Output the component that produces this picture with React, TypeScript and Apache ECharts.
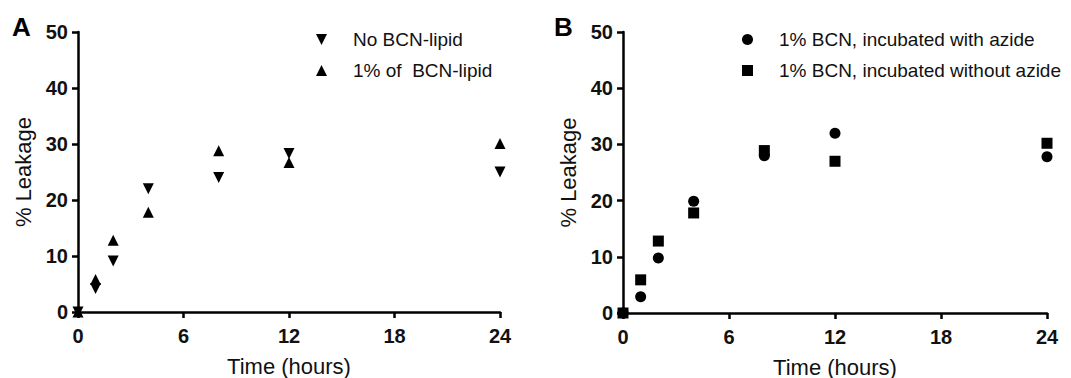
import React, { useEffect, useRef } from "react";
import * as echarts from "echarts";

const hours = [0, 1, 2, 4, 8, 12, 24];
const noBcnLipid = [0, 4.2, 9.1, 22.0, 24.0, 28.3, 25.0];
const bcnLipid1 = [0, 5.8, 12.8, 17.8, 28.8, 26.7, 30.1];
const withAzide = [0, 2.9, 9.8, 19.9, 28.0, 32.0, 27.8];
const withoutAzide = [0, 5.9, 12.8, 17.8, 28.9, 27.0, 30.2];

const seriesNamesA = ["No BCN-lipid", "1% of  BCN-lipid"];
const seriesNamesB = ["1% BCN, incubated with azide", "1% BCN, incubated without azide"];
const panelLabels = ["A", "B"];
const xTitle = "Time (hours)";
const yTitle = "% Leakage";

const FONT = "'Liberation Sans', Arial, Helvetica, sans-serif";
const DOWN_TRI = "path://M0,0L10,0L5,10Z";

const pts = (vals: number[]) => hours.map((h, i) => [h, vals[i]]);

export default function App() {
  const ref = useRef<HTMLDivElement>(null);
  useEffect(() => {
    if (!ref.current) return;
    const chart = echarts.init(ref.current, null, { renderer: "svg" });
    const axisLine = { show: true, onZero: false, lineStyle: { color: "#000", width: 2.5 } };
    const axisTick = { show: true, inside: false, length: 6, lineStyle: { color: "#000", width: 2.5 } };
    const label = (margin: number) => ({
      color: "#111",
      fontSize: 20,
      fontWeight: "bold" as const,
      fontFamily: FONT,
      margin,
    });
    const nameStyle = { color: "#111", fontSize: 22, fontFamily: FONT };
    const xAxis = (gi: number) => ({
      type: "value" as const,
      gridIndex: gi,
      min: 0,
      max: 24,
      interval: 6,
      name: xTitle,
      nameLocation: "middle" as const,
      nameGap: 43,
      nameTextStyle: nameStyle,
      axisLine,
      axisTick,
      axisLabel: label(14),
      splitLine: { show: false },
    });
    const yAxis = (gi: number) => ({
      type: "value" as const,
      gridIndex: gi,
      min: 0,
      max: 50,
      interval: 10,
      name: yTitle,
      nameLocation: "middle" as const,
      nameGap: 44,
      nameTextStyle: nameStyle,
      axisLine,
      axisTick,
      axisLabel: label(10),
      splitLine: { show: false },
    });
    const legendBase = {
      orient: "vertical" as const,
      top: 25,
      itemWidth: 11,
      itemHeight: 11,
      itemGap: 12,
      selectedMode: false,
      textStyle: { fontSize: 19, fontFamily: FONT, color: "#111", padding: [0, 0, 0, 21] },
    };
    const mark = { color: "#000", opacity: 1 };
    chart.setOption({
      animation: false,
      backgroundColor: "#fff",
      title: [
        { text: panelLabels[0], left: 7, top: 9, textStyle: { fontSize: 26, fontWeight: "bold", fontFamily: FONT, color: "#000" } },
        { text: panelLabels[1], left: 549, top: 9, textStyle: { fontSize: 26, fontWeight: "bold", fontFamily: FONT, color: "#000" } },
      ],
      grid: [
        { left: 78, top: 32, width: 422, height: 280, containLabel: false, outerBoundsMode: "none" },
        { left: 623, top: 32, width: 424, height: 281, containLabel: false, outerBoundsMode: "none" },
      ],
      xAxis: [xAxis(0), xAxis(1)],
      yAxis: [yAxis(0), yAxis(1)],
      legend: [
        { ...legendBase, left: 311, data: seriesNamesA },
        { ...legendBase, left: 737, data: seriesNamesB },
      ],
      series: [
        {
          name: seriesNamesA[0], type: "scatter", xAxisIndex: 0, yAxisIndex: 0, clip: false,
          symbol: DOWN_TRI, symbolSize: 11, itemStyle: mark, data: pts(noBcnLipid),
        },
        {
          name: seriesNamesA[1], type: "scatter", xAxisIndex: 0, yAxisIndex: 0, clip: false,
          symbol: "triangle", symbolSize: 11, itemStyle: mark, data: pts(bcnLipid1),
        },
        {
          name: seriesNamesB[0], type: "scatter", xAxisIndex: 1, yAxisIndex: 1, clip: false,
          symbol: "circle", symbolSize: 11, itemStyle: mark, data: pts(withAzide),
        },
        {
          name: seriesNamesB[1], type: "scatter", xAxisIndex: 1, yAxisIndex: 1, clip: false,
          symbol: "rect", symbolSize: 11, itemStyle: mark, data: pts(withoutAzide),
        },
      ],
    });
    return () => chart.dispose();
  }, []);
  return <div ref={ref} style={{ position: "fixed", left: 0, top: 0, width: 1071, height: 378 }} />;
}
